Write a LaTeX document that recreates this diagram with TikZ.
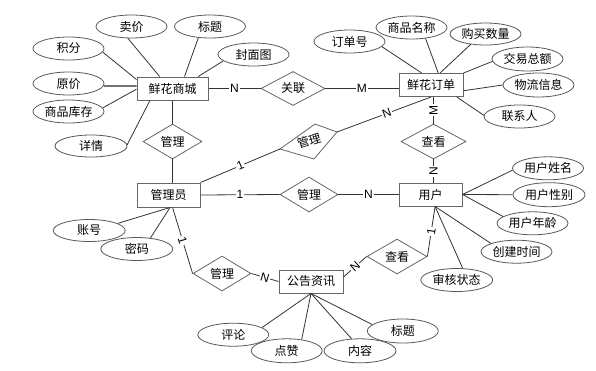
\documentclass[tikz,border=0pt]{standalone}
\usepackage{fontspec}
\setmainfont{Liberation Sans}
\newfontfamily\cjk{Noto Sans CJK SC}
\usetikzlibrary{shapes.geometric}
\begin{document}
\begin{tikzpicture}[x=1pt,y=-1pt,
  txt/.style={font=\cjk\fontsize{12pt}{14pt}\selectfont},
  ent/.style={txt, draw=black!60, line width=1pt, fill=white, minimum width=64pt, minimum height=23pt, inner sep=0pt},
  attr/.style={txt, ellipse, draw=black!65, line width=0.8pt, fill=white, minimum width=71pt, minimum height=23pt, inner sep=0pt},
  rel/.style={txt, diamond, aspect=1.7, draw=black!60, line width=0.8pt, fill=white, minimum width=58pt, minimum height=35pt, inner sep=0pt},
  lnk/.style={draw=black!80, line width=0.8pt},
  card/.style={fill=white, inner sep=1pt, font=\fontsize{12pt}{14pt}\selectfont}]
\useasboundingbox (0,0) rectangle (596,370);

% entities
\node[ent, minimum width=71pt] (b1) at (172.5,88.5) {鲜花商城};
\node[ent] (b2) at (431,85) {鲜花订单};
\node[ent, minimum width=63pt, minimum height=24pt] (b3) at (168.5,195) {管理员};
\node[ent, minimum width=63pt] (b4) at (430.5,194.5) {用户};
\node[ent] (b5) at (311,281.5) {公告资讯};

% relationships
\node[rel, minimum width=64pt, minimum height=34pt] (d0) at (293,88.5) {关联};
\node[rel, minimum width=59pt] (d1) at (172.5,141.5) {管理};
\node[rel] (d3) at (309,194.5) {管理};
\node[rel, minimum width=65pt] (d4) at (433.5,141.5) {查看};
\node[rel] (d5) at (222,273.5) {管理};
\node[rel, minimum width=60pt] (d6) at (397,256.5) {查看};
\coordinate (d2l) at (280,149);
\coordinate (d2t) at (315,124);
\coordinate (d2r) at (337,132);
\coordinate (d2b) at (314,159);
\draw[draw=black!60, line width=0.8pt, fill=white] (d2l) -- (d2t) -- (d2r) -- (d2b) -- cycle;
\node[txt, rotate=17, inner sep=0pt] (d2) at (309,141) {管理};

% attributes of 鲜花商城
\node[attr] (jf) at (68.5,48.5) {积分};
\node[attr] (mj) at (131.5,26.5) {卖价};
\node[attr] (bt1) at (210,26.5) {标题};
\node[attr] (fmt) at (253.5,54.5) {封面图};
\node[attr] (yj) at (68.5,83.5) {原价};
\node[attr] (kc) at (68.5,111.5) {商品库存};
\node[attr, minimum width=72pt, minimum height=22pt] (xq) at (91,146) {详情};
% attributes of 鲜花订单
\node[attr] (ddh) at (349.5,41.5) {订单号};
\node[attr] (spmc) at (411.5,27.5) {商品名称};
\node[attr, minimum height=22pt] (gmsl) at (485.5,34) {购买数量};
\node[attr, minimum height=24pt] (jyze) at (527.5,59) {交易总额};
\node[attr, minimum height=24pt] (wlxx) at (538.5,85) {物流信息};
\node[attr] (lxr) at (519.5,116.5) {联系人};
% attributes of 用户
\node[attr] (xm) at (548,168.3) {用户姓名};
\node[attr, minimum width=72pt, minimum height=24pt] (xb) at (549,194.7) {用户性别};
\node[attr] (nl) at (532.5,223.3) {用户年龄};
\node[attr] (cj) at (516.5,251.7) {创建时间};
\node[attr, minimum width=72pt] (sh) at (456.7,280) {审核状态};
% attributes of 管理员
\node[attr, minimum width=72pt, minimum height=22pt] (zh) at (89.2,230.5) {账号};
\node[attr, minimum width=72pt, minimum height=23pt] (mm) at (136.8,249) {密码};
% attributes of 公告资讯
\node[attr] (pl) at (233.3,334.7) {评论};
\node[attr, minimum height=24pt] (dz) at (286.7,350.8) {点赞};
\node[attr, minimum width=72pt, minimum height=24pt] (nr) at (360,350.8) {内容};
\node[attr, minimum height=24pt] (bt2) at (402.8,331) {标题};

% attribute links
\draw[lnk] (jf.-6) -- (b1.166);
\draw[lnk] (mj.253) -- (b1.137);
\draw[lnk] (bt1.224) -- (b1.45);
\draw[lnk] (fmt.192) -- (b1.25);
\draw[draw=black!55, line width=1.7pt] (yj.-4) -- (b1.176);
\draw[lnk] (kc.6) -- (b1.181);
\draw[lnk] (xq.2) -- (b1.208);

\draw[lnk] (ddh.351) -- (b2.128);
\draw[lnk] (spmc.322) -- (b2.59);
\draw[lnk] (gmsl.215) -- (b2.53);
\draw[lnk] (jyze.184) -- (b2.north east);
\draw[lnk] (wlxx.west) -- (b2.350);
\draw[lnk] (lxr.178) -- (b2.335);

\draw[lnk] (xm.183) -- (b4.east);
\draw[lnk] (xb.west) -- (b4.east);
\draw[lnk] (nl.167) -- (b4.east);
\draw[lnk] (cj.162) -- (b4.-69);
\draw[lnk] (sh.63) -- (b4.-69);

\draw[lnk] (zh.14) -- (b3.-83);
\draw[lnk] (mm.39) -- (b3.-83);

\draw[lnk] (pl.14) -- (b5.south);
\draw[lnk] (dz.37) -- (b5.south);
\draw[lnk] (nr.125) -- (b5.south);
\draw[lnk] (bt2.168) -- (b5.south);

% relationship links
\draw[lnk] (b1.east |- d0.west) -- node[card] {N} (d0.west);
\draw[lnk] (d0.east) -- node[card] {M} (d0.east -| b2.west);
\draw[lnk] (b1.south) -- (d1.north);
\draw[lnk] (d1.south) -- (d1.south |- b3.north);
\draw[lnk] (b3.north east) -- node[card, sloped] {1} (d2l);
\draw[lnk] (d2r) -- node[card, sloped, pos=0.53] {N} (b2.south);
\draw[lnk] (d4.north |- b2.south) -- node[card, rotate=90] {M} (d4.north);
\draw[lnk] (d4.south) -- node[card, rotate=90, pos=0.53] {N} (d4.south |- b4.north);
\draw[lnk] (b3.east) -- node[card] {1} (d3.west);
\draw[lnk] (d3.east) -- node[card] {N} (b4.west);
\draw[lnk] (b3.-72) -- node[card, sloped] {1} (d5.west);
\draw[lnk] (d5.east) -- node[card, sloped] {N} (b5.west);
\draw[lnk] (b5.8) -- node[card, sloped] {N} (d6.west);
\draw[lnk] (d6.east) -- node[card, sloped] {1} (b4.-69);
\end{tikzpicture}
\end{document}
